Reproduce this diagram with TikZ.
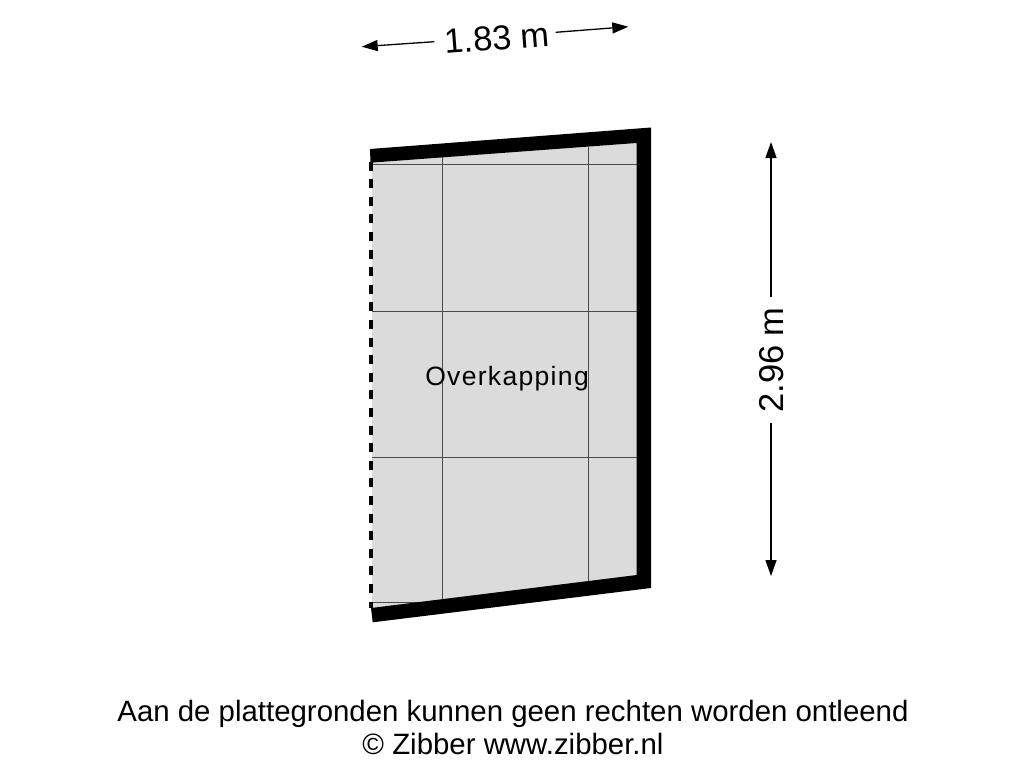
\documentclass[tikz,border=0pt]{standalone}
\usepackage{fontspec}
\setmainfont{Liberation Sans}
\usetikzlibrary{arrows.meta,positioning}
\definecolor{floorgrey}{HTML}{DBDBDB}
\definecolor{gridgrey}{HTML}{4A4A4A}
\tikzstyle{grid line}=[draw=gridgrey, line width=0.9pt]
\tikzstyle{dim end}=[black, line width=1.3pt, -{Triangle[length=16pt,width=11pt]}]
\tikzstyle{dim label}=[inner sep=0pt, font=\fontsize{34.5}{36}\selectfont]
\tikzstyle{note}=[inner sep=0pt, font=\fontsize{29.4}{32}\selectfont]

\begin{document}
\begin{tikzpicture}[x=1pt,y=-1pt]
  \useasboundingbox (0,0) rectangle (1024,768);
%
  \fill[floorgrey] (372,162) -- (637,143) -- (637,576) -- (372,608) -- cycle;
%
  \foreach \gy in {164.5,311,457}
    \draw[grid line] (372,\gy) -- (637,\gy);
  \draw[grid line] (372,602.5) -- (420,602.5);
  \draw[grid line] (442,154) -- (442,599);
  \draw[grid line] (588,147) -- (588,581);
%
  \draw[black, line width=3.4pt, dash pattern=on 9pt off 8.6pt] (371,161.5) -- (371,608);
  \fill[black] (370,149) -- (651,127.5) -- (651,588) -- (372.7,622.3) -- (371,608)
    -- (636.7,575) -- (636.7,143) -- (370.5,162.7) -- cycle;
%
  \node[inner sep=0pt, font=\fontsize{26.5}{28}\selectfont] (room) at (507,379)
    {\addfontfeature{LetterSpace=5}Overkapping};
%
  \node[dim label, rotate=4.4] (width) at (497,38) {1.83 m};
  \coordinate (wl) at (361.7,46.7);
  \coordinate (wla) at (434.3,41.7);
  \coordinate (wr) at (628.3,26.7);
  \coordinate (wra) at (555.7,32.3);
  \draw[dim end] (wla) -- (wl);
  \draw[dim end] (wra) -- (wr);
%
  \node[dim label, rotate=90] (height) at (772,360) {2.96 m};
  \coordinate (ht) at (771,142);
  \coordinate (hta) at (771,297);
  \coordinate (hb) at (771,576);
  \coordinate (hba) at (771,423);
  \draw[dim end] (hta) -- (ht);
  \draw[dim end] (hba) -- (hb);
%
  \node[note] (disclaimer) at (513,714) {Aan de plattegronden kunnen geen rechten worden ontleend};
  \node[note] (credit) at (513,744) {© Zibber www.zibber.nl};
%
\end{tikzpicture}
\end{document}
